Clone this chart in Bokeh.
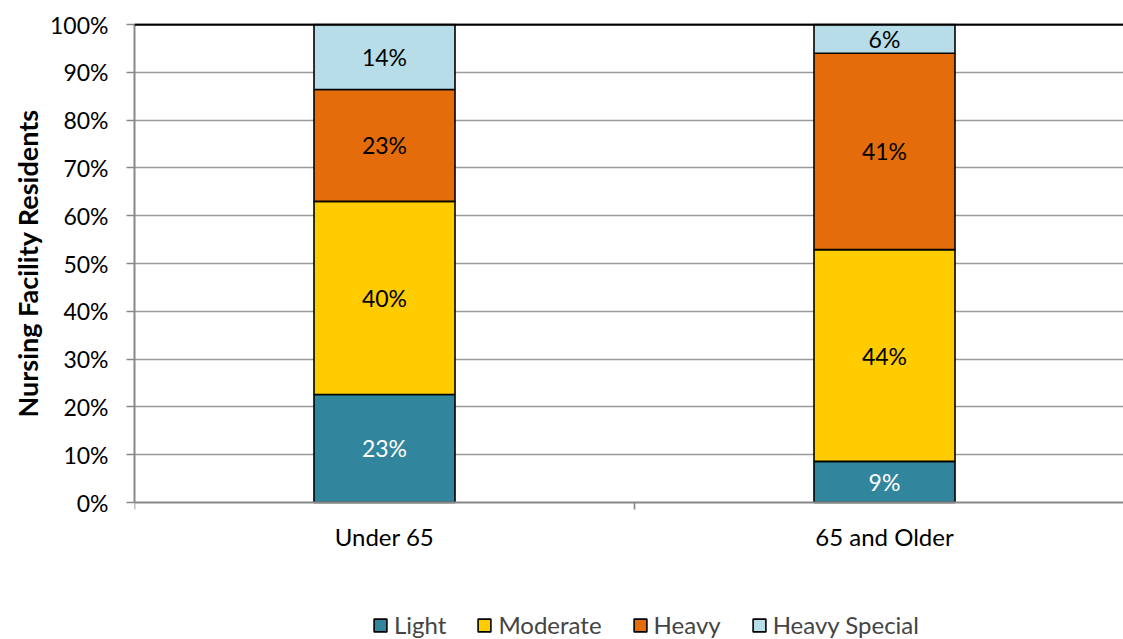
from bokeh.plotting import figure
from bokeh.models import (ColumnDataSource, FixedTicker, Span, Legend, LegendItem,
                          LabelSet, Range1d, NumeralTickFormatter, Title)
from bokeh.core.properties import value
from bokeh.embed import file_html
from bokeh.resources import INLINE

# ---- data ----
groups = ["Under 65", "65 and Older"]
levels = ["Light", "Moderate", "Heavy", "Heavy Special"]
light = [0.226, 0.086]
moderate = [0.404, 0.443]
heavy = [0.234, 0.411]
heavy_special = [0.136, 0.060]
y_ticks = [0.0, 0.1, 0.2, 0.3, 0.4, 0.5, 0.6, 0.7, 0.8, 0.9, 1.0]
x_tick_marks = [0, 1, 2]
y_title = "Nursing Facility Residents"

colors = ["#31859C", "#FFCC00", "#E46C0A", "#B7DEE8"]
label_colors = ["white", "black", "black", "black"]
FONT = "Lato"

W, H = 1123, 639
LEFT, TOP = 134, 23
PX_PER_UNIT = 478.0           # pixels for 0..100 %
BELOW_PX = H - TOP - PX_PER_UNIT - 1   # pixel space under the 0 % line
CAT_PX = 500.0                # pixels per category slot

series = [light, moderate, heavy, heavy_special]
keys = ["light", "moderate", "heavy", "heavy_special"]
xs = [i + 0.5 for i in range(len(groups))]

src = ColumnDataSource(dict(x=xs, **{k: v for k, v in zip(keys, series)}))

p = figure(width=W, height=H, output_backend="svg", toolbar_location=None,
           x_range=Range1d(0, (W - LEFT) / CAT_PX),
           y_range=Range1d(-BELOW_PX / PX_PER_UNIT, 1 + 1 / PX_PER_UNIT),
           min_border_left=LEFT, min_border_right=0, min_border_top=TOP,
           min_border_bottom=0, x_axis_location=None)
p.outline_line_color = None
p.background_fill_color = "white"

rends = p.vbar_stack(keys, x="x", width=0.282, source=src, fill_color=colors,
                     line_color="black", line_width=1.6)

# data labels
lx, ly, lt, lc = [], [], [], []
for gi in range(len(groups)):
    base = 0.0
    for si, s in enumerate(series):
        v = s[gi]
        lx.append(xs[gi])
        ly.append(base + v / 2)
        lt.append(f"{round(v * 100):d}%")
        lc.append(label_colors[si])
        base += v
lsrc = ColumnDataSource(dict(x=lx, y=ly, t=lt, c=lc))
p.add_layout(LabelSet(x="x", y="y", text="t", source=lsrc, text_color="c",
                      text_align="center", text_baseline="middle",
                      text_font=value(FONT), text_font_size=value("23px")))

# top black line at 100%
p.add_layout(Span(location=1.0, dimension="width", line_color="black", line_width=2.5))

# grid
p.xgrid.visible = False
p.ygrid.ticker = FixedTicker(ticks=y_ticks[1:])
p.ygrid.grid_line_color = "#9a9a9a"
p.ygrid.grid_line_width = 1.6

# category axis (drawn at the 0 % line)
p.add_layout(Span(location=0.0, dimension="width", line_color="#888888", line_width=2))
tick_len = 7 / PX_PER_UNIT
p.segment(x0=x_tick_marks, y0=[0] * len(x_tick_marks), x1=x_tick_marks,
          y1=[-tick_len] * len(x_tick_marks), line_color="#888888", line_width=1.6)
csrc = ColumnDataSource(dict(x=xs, y=[0] * len(xs), t=groups))
p.add_layout(LabelSet(x="x", y="y", text="t", source=csrc, y_offset=-19,
                      text_align="center", text_baseline="top", text_color="black",
                      text_font=value(FONT), text_font_size=value("24px")))

# y axis
ya = p.yaxis[0]
ya.bounds = (0, 1)
ya.ticker = FixedTicker(ticks=y_ticks)
ya.formatter = NumeralTickFormatter(format="0%")
ya.axis_line_color = "#888888"
ya.axis_line_width = 2
ya.major_tick_line_color = "#888888"
ya.major_tick_line_width = 1.6
ya.major_tick_out = 8
ya.major_tick_in = 0
ya.minor_tick_line_color = None
ya.major_label_standoff = 18
ya.major_label_text_font = FONT
ya.major_label_text_font_size = "23px"
ya.major_label_text_color = "black"

# y title, placed along the 0..100 % span
p.add_layout(Title(text=y_title, align="left", offset=222, standoff=8,
                   text_font=FONT, text_font_style="bold", text_font_size="27px",
                   text_color="black"), "left")

# legend
items = [LegendItem(label=lvl, renderers=[r]) for lvl, r in zip(levels, rends)]
leg = Legend(items=items, orientation="horizontal", location=(238, 0),
             padding=0, margin=0, spacing=30, label_standoff=6,
             glyph_width=16, glyph_height=16,
             label_text_font=FONT, label_text_font_size="24px",
             border_line_color=None, background_fill_alpha=0)
p.add_layout(leg, "center")

open("out.html", "w").write(file_html(p, INLINE))
